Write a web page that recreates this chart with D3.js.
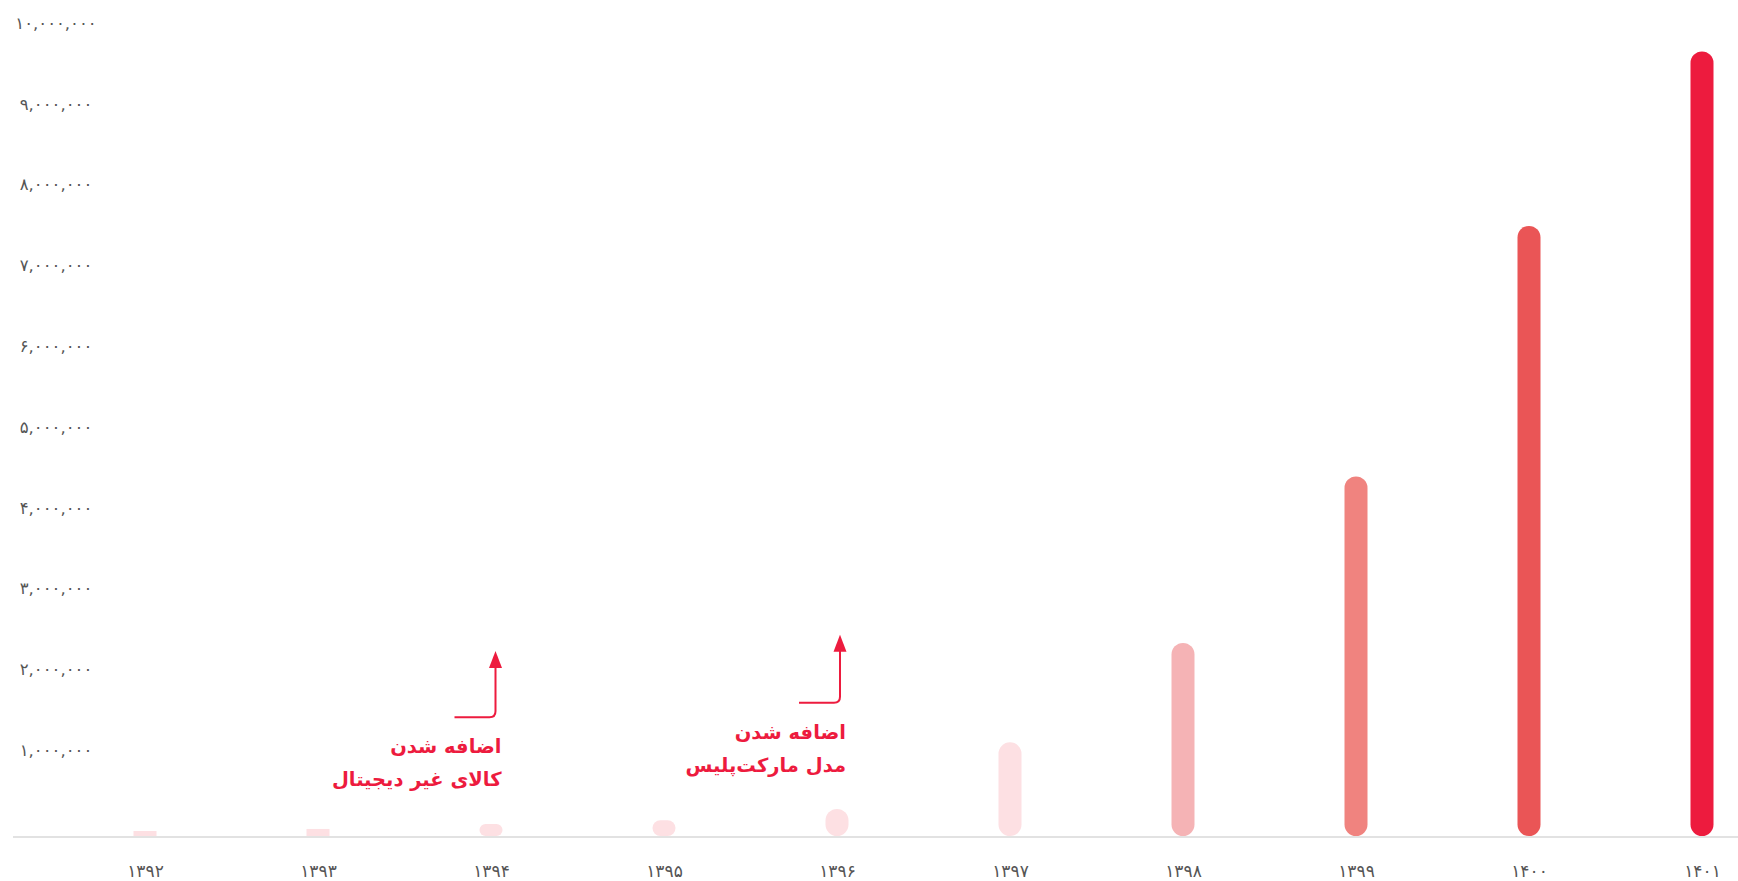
<!DOCTYPE html>
<html>
<head>
<meta charset="utf-8">
<script src="https://cdn.jsdelivr.net/npm/d3@7"></script>
<style>
  body { margin: 0; background: #fff; }
  svg text { font-family: "DejaVu Sans", sans-serif; }
</style>
</head>
<body>
<div id="chart-area"></div>
<script>
// داده‌ها
const years = ["۱۳۹۲", "۱۳۹۳", "۱۳۹۴", "۱۳۹۵", "۱۳۹۶", "۱۳۹۷", "۱۳۹۸", "۱۳۹۹", "۱۴۰۰", "۱۴۰۱"];
const values = [62000, 87000, 150000, 195000, 335000, 1160000, 2390000, 4450000, 7550000, 9710000];
const barColors = ["#fde0e3", "#fde0e3", "#fde0e3", "#fde0e3", "#fde0e3", "#fde0e3", "#f5b3b5", "#f0837f", "#ea5556", "#ed1b3e"];
const yTicks = [1000000, 2000000, 3000000, 4000000, 5000000, 6000000, 7000000, 8000000, 9000000, 10000000];

// یادداشت‌ها
const noteYears = ["۱۳۹۴", "۱۳۹۶"];
const noteLines = [["اضافه شدن", "کالای غیر دیجیتال"], ["اضافه شدن", "مدل مارکت‌پلیس"]];
const noteTops = [2290000, 2490000];
const noteBases = [1470000, 1650000];

const width = 1738;
const height = 881;
const red = "#ed1b3e";

const toFa = s => s.replace(/[0-9]/g, d => "۰۱۲۳۴۵۶۷۸۹"[d]);

const svg = d3.select("#chart-area")
    .append("svg")
    .attr("width", width)
    .attr("height", height);

const x = d3.scalePoint()
    .domain(years)
    .range([145, 1702]);

const y = d3.scaleLinear()
    .domain([0, 10000000])
    .range([836, 28]);

// محور عمودی (فقط برچسب‌ها)
const yAxis = svg.append("g")
    .attr("transform", "translate(56,-5)")
    .call(d3.axisLeft(y).tickValues(yTicks).tickSize(0).tickFormat(d => toFa(d3.format(",")(d))));
yAxis.select(".domain").remove();
yAxis.selectAll("text")
    .attr("x", 0)
    .attr("text-anchor", "middle")
    .attr("fill", "#555")
    .style("font-size", "16.5px");

// خط پایه
svg.append("line")
    .attr("x1", 13)
    .attr("x2", width)
    .attr("y1", y(0) + 1)
    .attr("y2", y(0) + 1)
    .attr("stroke", "#e2e2e2")
    .attr("stroke-width", 2);

// محور افقی
const xAxis = svg.append("g")
    .attr("transform", `translate(0,${y(0)})`)
    .call(d3.axisBottom(x).tickSize(0));
xAxis.select(".domain").remove();
xAxis.selectAll("text")
    .attr("y", 41)
    .attr("dy", 0)
    .attr("fill", "#555")
    .style("font-size", "17px");

// ستون‌ها
const barWidth = 23;
svg.selectAll("rect.bar")
    .data(values)
    .enter()
    .append("rect")
    .attr("class", "bar")
    .attr("x", (d, i) => x(years[i]) - barWidth / 2)
    .attr("y", d => y(d))
    .attr("width", barWidth)
    .attr("height", d => y(0) - y(d))
    .attr("rx", d => {
        const h = y(0) - y(d);
        return h < 10 ? 0 : Math.min(barWidth / 2, h / 2);
    })
    .attr("fill", (d, i) => barColors[i]);

// فلش‌ها و متن یادداشت‌ها
const offsets = [4.5, 3];
noteYears.forEach((yr, i) => {
    const ax = x(yr) + offsets[i];
    const top = y(noteTops[i]);
    const base = y(noteBases[i]);
    const r = 6;
    svg.append("path")
        .attr("d", `M${ax - 41},${base} H${ax - r} Q${ax},${base} ${ax},${base - r} V${top + 14}`)
        .attr("fill", "none")
        .attr("stroke", red)
        .attr("stroke-width", 2);
    svg.append("path")
        .attr("d", `M${ax},${top} L${ax + 6.5},${top + 17} L${ax - 6.5},${top + 17} Z`)
        .attr("fill", red);

    const t = svg.append("text")
        .attr("direction", "rtl")
        .attr("text-anchor", "start")
        .attr("fill", red)
        .attr("font-weight", "bold")
        .style("font-size", "19.5px");
    noteLines[i].forEach((line, j) => {
        t.append("tspan")
            .attr("x", ax + 6)
            .attr("y", base + 36 + j * 33)
            .text(line);
    });
});
</script>
</body>
</html>
